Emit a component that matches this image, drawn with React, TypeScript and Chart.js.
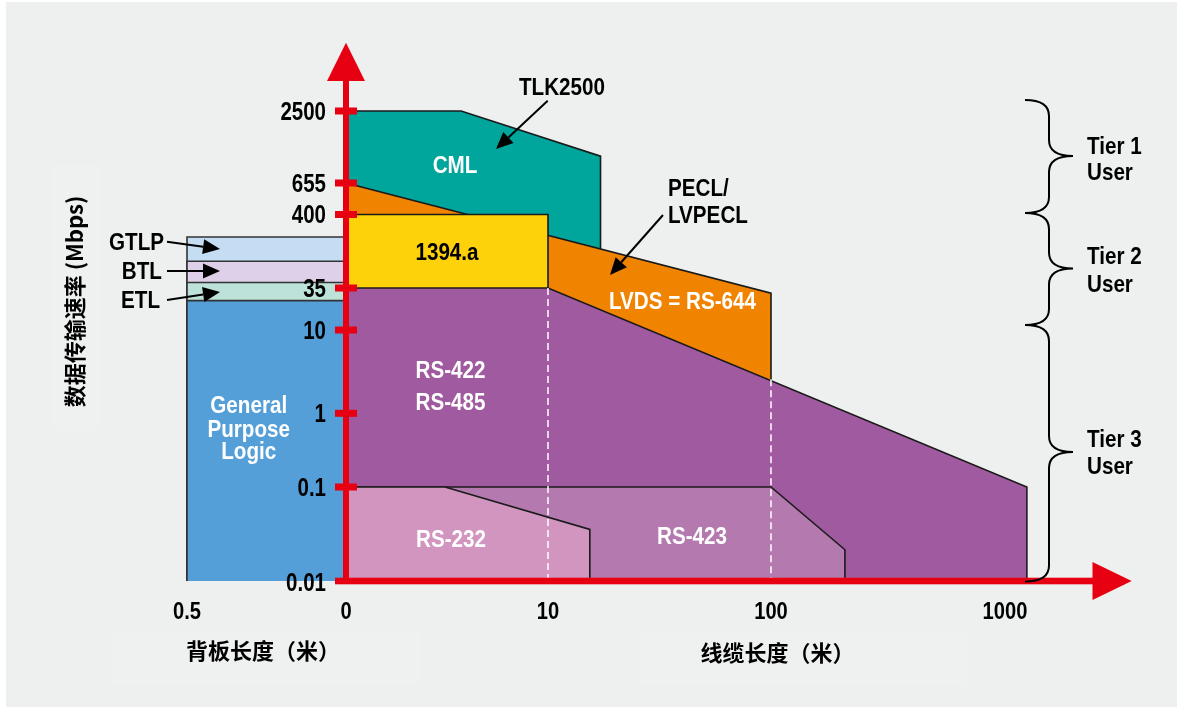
import React, { useEffect, useRef } from 'react';
import { Chart, LinearScale, registerables } from 'chart.js';

// ---------------- Data ----------------
// x: cable / backplane length in metres (negative values = backplane side, 0.5 m .. 0)
// y: data rate in Mbps
const xTickValues = [-0.5, 0, 10, 100, 1000];
const xTickLabels = ['0.5', '0', '10', '100', '1000'];
const yTickValues = [0.01, 0.1, 1, 10, 35, 400, 655, 2500];
const yTickLabels = ['0.01', '0.1', '1', '10', '35', '400', '655', '2500'];

const cmlX = [0, 5.7, 17.2, 17.2];
const cmlY = [2500, 2500, 1080, 0.01];
const peclX = [0, 100, 100];
const peclY = [655, 30, 0.01];
const fwX = [0, 10, 10];
const fwY = [400, 400, 0.01];
const rs422X = [0, 10, 1240, 1240];
const rs422Y = [35, 35, 0.1, 0.01];
const rs423X = [0, 100, 207, 207];
const rs423Y = [0.1, 0.1, 0.0215, 0.01];
const rs232X = [0, 4.9, 15.4, 15.4];
const rs232Y = [0.1, 0.1, 0.0354, 0.01];
const backplaneX = [-0.5, -0.5, 0];
const gtlpY = [0.01, 190, 190];
const btlY = [0.01, 85, 85];
const etlY = [0.01, 42, 42];
const gplY = [0.01, 24, 24];
const guideX = [10, 100];
const guideTop = [35, 2.57];

// ---------------- Layout (axis stop positions as fraction of plot size) ----------------
const xTickFrac = [0, 0.16843, 0.38242, 0.61864, 0.86653];
const yTickFrac = [0, 0.2, 0.3568, 0.534, 0.6234, 0.7798, 0.8468, 1];

const AXIS_STOPS: Record<string, { values: number[]; fracs: number[] }> = {
  x: { values: xTickValues, fracs: xTickFrac },
  y: { values: yTickValues, fracs: yTickFrac },
};

class StopScale extends LinearScale {
  static id = 'stops';
  static defaults = {};
  stopsDef() {
    return AXIS_STOPS[(this as any).axis];
  }
  determineDataLimits() {
    const s = this.stopsDef();
    (this as any).min = s.values[0];
    (this as any).max = s.values[s.values.length - 1];
  }
  buildTicks() {
    return this.stopsDef().values.map((v) => ({ value: v }));
  }
  toDecimal(v: number) {
    const { values, fracs } = this.stopsDef();
    let i = 0;
    while (i < values.length - 2 && v > values[i + 1]) i++;
    const a = values[i];
    const b = values[i + 1];
    let t: number;
    if (a > 0 && b > 0 && v > 0) t = Math.log(v / a) / Math.log(b / a);
    else t = (v - a) / (b - a);
    return fracs[i] + t * (fracs[i + 1] - fracs[i]);
  }
  getPixelForValue(v: number) {
    return (this as any).getPixelForDecimal(this.toDecimal(v));
  }
  getValueForPixel(p: number) {
    const s: any = this;
    return s.min + s.getDecimalForPixel(p) * (s.max - s.min);
  }
}

Chart.register(...registerables, StopScale as any);

// ---------------- Styles ----------------
const BG = '#eef0f0';
const BG_LIGHT = '#eff0f0';
const RED = '#e60012';
const EDGE = '#1a1a1a';
const LATIN = '"Liberation Sans", Arial, sans-serif';
const CJK = '"Noto Sans CJK SC", "Noto Sans CJK TC", sans-serif';

const zip = (xs: number[], ys: number[]) => xs.map((x, i) => ({ x, y: ys[i] }));

function region(label: string, xs: number[], ys: number[], color: string, order: number, edge = EDGE) {
  return {
    label,
    data: zip(xs, ys),
    backgroundColor: color,
    borderColor: edge,
    borderWidth: 1.6,
    fill: 'start',
    pointRadius: 0,
    tension: 0,
    order,
    clip: false,
  };
}

function narrow(ctx: CanvasRenderingContext2D, text: string, x: number, yc: number, size: number, color: string, align: CanvasTextAlign = 'center', sx = 0.86) {
  ctx.save();
  ctx.font = `bold ${size}px ${LATIN}`;
  ctx.fillStyle = color;
  ctx.textAlign = align;
  ctx.textBaseline = 'alphabetic';
  ctx.translate(x, yc + (0.716 * size) / 2);
  ctx.scale(sx, 1);
  ctx.fillText(text, 0, 0);
  ctx.restore();
}

function arrow(ctx: CanvasRenderingContext2D, x1: number, y1: number, x2: number, y2: number) {
  const ang = Math.atan2(y2 - y1, x2 - x1);
  const hl = 17;
  const hw = 7.5;
  const bx = x2 - hl * Math.cos(ang);
  const by = y2 - hl * Math.sin(ang);
  ctx.save();
  ctx.strokeStyle = '#000';
  ctx.fillStyle = '#000';
  ctx.lineWidth = 2;
  ctx.beginPath();
  ctx.moveTo(x1, y1);
  ctx.lineTo(bx, by);
  ctx.stroke();
  ctx.beginPath();
  ctx.moveTo(x2, y2);
  ctx.lineTo(bx + hw * Math.sin(ang), by - hw * Math.cos(ang));
  ctx.lineTo(bx - hw * Math.sin(ang), by + hw * Math.cos(ang));
  ctx.closePath();
  ctx.fill();
  ctx.restore();
}

function brace(ctx: CanvasRenderingContext2D, x0: number, top: number, bot: number, tip: number) {
  const xv = x0 + 24;
  const xt = x0 + 48;
  const r = 16;
  ctx.save();
  ctx.strokeStyle = '#000';
  ctx.lineWidth = 2;
  ctx.beginPath();
  ctx.moveTo(x0, top);
  ctx.quadraticCurveTo(xv, top, xv, top + r);
  ctx.lineTo(xv, tip - r);
  ctx.quadraticCurveTo(xv, tip, xt, tip);
  ctx.quadraticCurveTo(xv, tip, xv, tip + r);
  ctx.lineTo(xv, bot - r);
  ctx.quadraticCurveTo(xv, bot, x0, bot);
  ctx.stroke();
  ctx.restore();
}

const regionLabels = [
  { t: 'TLK2500', x: 562, y: 86.5, c: '#000', a: 'center' },
  { t: 'CML', x: 455, y: 164.5, c: '#fff', a: 'center' },
  { t: '1394.a', x: 447, y: 251.5, c: '#000', a: 'center' },
  { t: 'PECL/', x: 668, y: 187, c: '#000', a: 'left' },
  { t: 'LVPECL', x: 668, y: 214, c: '#000', a: 'left' },
  { t: 'LVDS = RS-644', x: 682.5, y: 300, c: '#fff', a: 'center' },
  { t: 'RS-422', x: 450.5, y: 369, c: '#fff', a: 'center' },
  { t: 'RS-485', x: 450.5, y: 401, c: '#fff', a: 'center' },
  { t: 'General', x: 248.7, y: 404, c: '#fff', a: 'center' },
  { t: 'Purpose', x: 248.7, y: 428.3, c: '#fff', a: 'center' },
  { t: 'Logic', x: 248.7, y: 450.7, c: '#fff', a: 'center' },
  { t: 'RS-232', x: 451, y: 538, c: '#fff', a: 'center' },
  { t: 'RS-423', x: 692, y: 535.5, c: '#fff', a: 'center' },
  { t: 'GTLP', x: 136.5, y: 241.7, c: '#000', a: 'center' },
  { t: 'BTL', x: 141.8, y: 270.7, c: '#000', a: 'center' },
  { t: 'ETL', x: 140.5, y: 299.3, c: '#000', a: 'center' },
  { t: 'Tier 1', x: 1087, y: 145, c: '#000', a: 'left' },
  { t: 'User', x: 1087, y: 171.7, c: '#000', a: 'left' },
  { t: 'Tier 2', x: 1087, y: 255.3, c: '#000', a: 'left' },
  { t: 'User', x: 1087, y: 283.3, c: '#000', a: 'left' },
  { t: 'Tier 3', x: 1087, y: 438.5, c: '#000', a: 'left' },
  { t: 'User', x: 1087, y: 465, c: '#000', a: 'left' },
];

const arrows = [
  [547.7, 100.7, 496, 149],
  [663, 215, 610, 275],
  [167, 241.7, 220, 249],
  [167, 271, 220, 271],
  [167, 300, 220, 292],
];

const braces = [
  [1025, 100, 213, 156],
  [1025, 213, 325, 268.5],
  [1025, 325, 581.5, 452],
];

const decor = {
  id: 'decor',
  beforeDraw(chart: any) {
    const ctx = chart.ctx as CanvasRenderingContext2D;
    ctx.save();
    ctx.fillStyle = '#ffffff';
    ctx.fillRect(0, 0, chart.width, chart.height);
    ctx.fillStyle = BG;
    ctx.fillRect(6, 2, chart.width - 6, chart.height - 2);
    ctx.fillStyle = BG_LIGHT;
    ctx.fillRect(52, 165, 48, 265);
    ctx.fillRect(110, 630, 310, 55);
    ctx.fillRect(640, 630, 327, 55);
    ctx.restore();
  },
  afterDatasetsDraw(chart: any) {
    const ctx = chart.ctx as CanvasRenderingContext2D;
    const xs = chart.scales.x;
    const ys = chart.scales.y;
    const area = chart.chartArea;
    const x0 = xs.getPixelForValue(0);
    const y0 = ys.getPixelForValue(yTickValues[0]);

    // red axes
    ctx.save();
    ctx.fillStyle = RED;
    ctx.fillRect(x0 - 3, area.top - 32, 6, y0 - area.top + 35);
    ctx.beginPath();
    ctx.moveTo(x0, area.top - 68.3);
    ctx.lineTo(x0 + 19, area.top - 30);
    ctx.lineTo(x0 - 19, area.top - 30);
    ctx.closePath();
    ctx.fill();
    ctx.fillRect(x0 - 11, y0 - 3.3, area.right - 38 - (x0 - 11), 6.6);
    ctx.beginPath();
    ctx.moveTo(area.right + 0.7, y0);
    ctx.lineTo(area.right - 38.5, y0 - 19);
    ctx.lineTo(area.right - 38.5, y0 + 19);
    ctx.closePath();
    ctx.fill();
    yTickValues.forEach((v, i) => {
      if (i === 0) return;
      const py = ys.getPixelForValue(v);
      ctx.fillRect(x0 - 11, py - 3.5, 22, 7);
    });
    ctx.restore();

    // tick labels
    yTickValues.forEach((v, i) => {
      const py = ys.getPixelForValue(v);
      narrow(ctx, yTickLabels[i], x0 - 20, py + (i === 0 ? 1 : 0), 25, '#000', 'right', 0.82);
    });
    xTickValues.forEach((v, i) => {
      const px = xs.getPixelForValue(v);
      narrow(ctx, xTickLabels[i], px, 610, 24, '#000', 'center', 0.84);
    });

    // region / annotation labels
    regionLabels.forEach((l) => narrow(ctx, l.t, l.x, l.y, 24, l.c, l.a as CanvasTextAlign));
    arrows.forEach((a) => arrow(ctx, a[0], a[1], a[2], a[3]));
    braces.forEach((b) => brace(ctx, b[0], b[1], b[2], b[3]));

    // axis titles
    ctx.save();
    ctx.fillStyle = '#000';
    ctx.font = `bold 22px ${CJK}`;
    ctx.textAlign = 'center';
    ctx.textBaseline = 'middle';
    ctx.fillText('背板长度（米）', 263, 651);
    ctx.fillText('线缆长度（米）', 777.5, 652.5);
    ctx.translate(75, 301.5);
    ctx.rotate(-Math.PI / 2);
    ctx.fillText('数据传输速率 (Mbps)', 0, 0);
    ctx.restore();
  },
};

export default function App() {
  const ref = useRef<HTMLCanvasElement>(null);
  useEffect(() => {
    const datasets: any[] = [
      region('CML', cmlX, cmlY, '#00a59c', 6),
      region('PECL/LVPECL, LVDS = RS-644', peclX, peclY, '#f08300', 5),
      region('1394.a', fwX, fwY, '#fdd20b', 4),
      region('RS-422/RS-485', rs422X, rs422Y, '#a05a9f', 3),
      region('RS-423', rs423X, rs423Y, '#b479ae', 2),
      region('RS-232', rs232X, rs232Y, '#d195c0', 1),
      region('GTLP', backplaneX, gtlpY, '#c4ddf3', 4, '#333'),
      region('BTL', backplaneX, btlY, '#ddd0e8', 3, '#333'),
      region('ETL', backplaneX, etlY, '#bde2d9', 2, '#333'),
      region('General Purpose Logic', backplaneX, gplY, '#559fd9', 1, '#333'),
      ...guideX.map((gx, i) => ({
        label: 'guide ' + gx,
        data: [{ x: gx, y: guideTop[i] }, { x: gx, y: yTickValues[0] }],
        borderColor: '#ffffff',
        borderWidth: 1.5,
        borderDash: [7, 4],
        fill: false,
        pointRadius: 0,
        order: 0,
        clip: false,
      })),
    ];
    const chart = new Chart(ref.current as HTMLCanvasElement, {
      type: 'line',
      data: { datasets },
      options: {
        responsive: false,
        animation: false,
        devicePixelRatio: 1,
        events: [],
        layout: { padding: { left: 187, right: 46, top: 111, bottom: 126 } },
        plugins: { legend: { display: false }, tooltip: { enabled: false } },
        scales: {
          x: { type: 'stops', display: false },
          y: { type: 'stops', display: false },
        },
      } as any,
      plugins: [decor],
    });
    return () => chart.destroy();
  }, []);
  return (
    <div style={{ position: 'absolute', left: 0, top: 0, width: 1177, height: 707 }}>
      <canvas ref={ref} width={1177} height={707} style={{ display: 'block', width: 1177, height: 707 }} />
    </div>
  );
}
